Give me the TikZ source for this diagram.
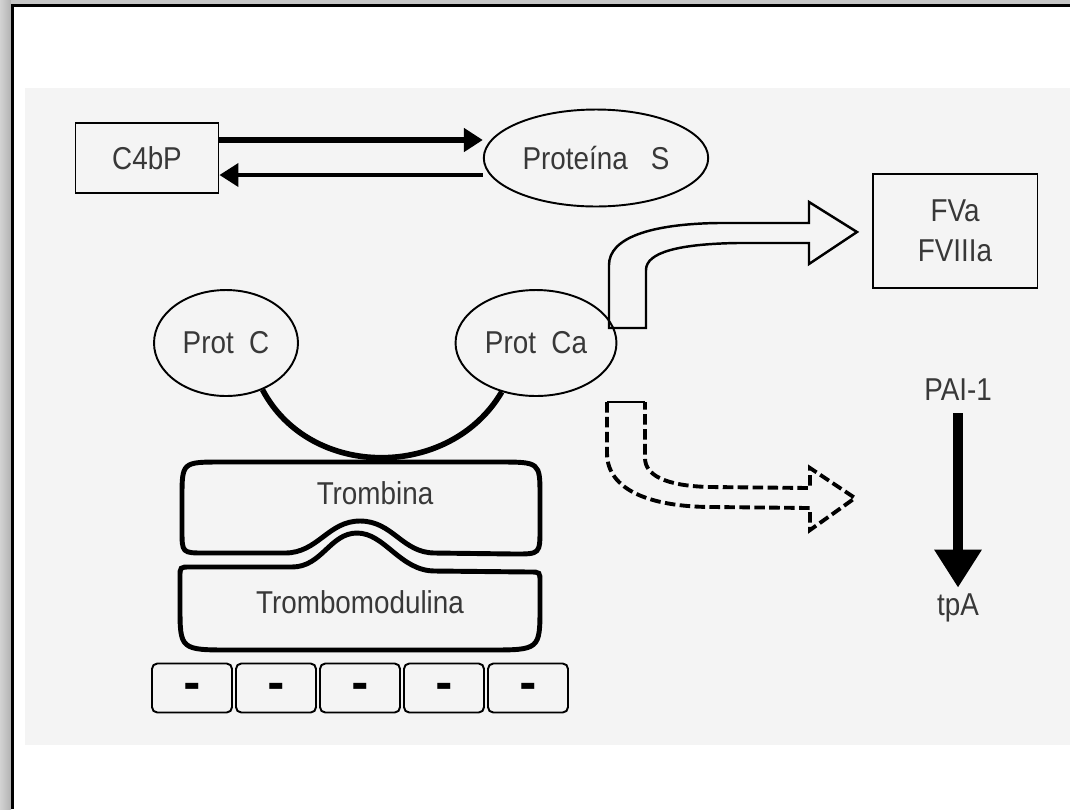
\documentclass[tikz,border=0pt]{standalone}
\usepackage{fontspec}
\setmainfont{Liberation Sans}[FakeStretch=0.88]
\newfontfamily\chargefont{DejaVu Sans}
\usetikzlibrary{shapes.geometric, arrows.meta}
\definecolor{panel}{HTML}{F4F4F4}

\begin{document}
\begin{tikzpicture}[
						x=0.02cm, y=-0.02cm,
						every node/.style={font=\fontsize{18}{23}\selectfont, text=black!78},
						box/.style={rectangle, draw, line width=1.1pt, text=black!78},
						blob/.style={ellipse, draw, line width=1.1pt, text=black!78},
						cell/.style={rectangle, draw, rounded corners=3pt, line width=1.1pt, minimum width=1.6cm, minimum height=0.98cm, text height=12pt, font=\chargefont\bfseries\fontsize{24}{24}\selectfont, text=black},
						hollow/.style={draw, line width=1.4pt},
						every path/.style={>={Triangle[length=0.38cm, width=0.46cm]}}]
					\useasboundingbox (0,0) rectangle (1070,809);
					\fill[white] (0,0) rectangle (1070,809);
					\fill[panel] (25,88) rectangle (1070,745);
					\shade[left color=gray!35, right color=gray!60] (0,0) rectangle (11,809);
					\fill[gray!45] (11,0) rectangle (1070,4);
					\fill[black] (11,4) rectangle (14,809);
					\fill[black] (11,4) rectangle (1070,7);

					\node[box, minimum width=2.86cm, minimum height=1.4cm] (C4bP) at (147,158) {C4bP};
					\node[blob, minimum width=4.46cm, minimum height=1.94cm] (ProtS) at (596,158) {Proteína~~~S};
					\node[box, minimum width=3.3cm, minimum height=2.28cm, align=center] (FV) at (955,231) {FVa\\FVIIIa};
					\node[blob, minimum width=2.88cm, minimum height=2.12cm] (ProtC) at (226,343) {Prot~~C};
					\node[blob, minimum width=3.0cm, minimum height=2.12cm] (ProtCa) at (536,343) {Prot~~Ca};
					\node (PAI) at (958,390) {PAI-1};
					\node (tpA) at (958,608) {tpA};

					\path [->, line width=3.8pt] ([yshift=0.36cm]C4bP.east) edge ([yshift=0.36cm]ProtS.west);
					\path [->, line width=2.3pt] ([yshift=-0.34cm]ProtS.west) edge ([yshift=-0.34cm]C4bP.east);
					\path [-{Triangle[length=0.76cm, width=0.9cm]}, line width=5.7pt] (PAI) edge[shorten <=0.12cm] (tpA);

					\draw[line width=3.2pt] (ProtC.-52) .. controls (310,480) and (450,480) .. (ProtCa.-125);

					\draw[line width=2.8pt] (540,510) -- (540,496) .. controls (540,462) .. (498,462) -- (222,462) .. controls (182,462) .. (182,498) -- (182,530) .. controls (182,553) .. (205,553) -- (285,553) .. controls (318,553) and (328,521) .. (360,521) .. controls (393,521) and (402,553) .. (435,553) -- (515,554) .. controls (540,554) .. (540,528) -- cycle;
					\draw[line width=2.8pt] (360,650) -- (232,650) .. controls (180,650) .. (180,606) -- (180,577) .. controls (180,567) .. (190,567) -- (292,567) .. controls (322,567) and (330,533) .. (357,533) .. controls (385,533) and (400,571) .. (435,571) -- (530,572) .. controls (540,572) .. (540,582) -- (540,606) .. controls (540,650) .. (488,650) -- cycle;
					\node (Trom) at (375,493) {Trombina};
					\node (TromMod) at (360,602) {Trombomodulina};

					\foreach \i in {0,...,4}
						\node[cell] (cell\i) at (192+84*\i,688) {-};

					\draw[hollow] (609,328) -- (609,265) .. controls (609,238) and (650,224) .. (718,223) -- (809,223) -- (809,202) -- (857,232) -- (809,264) -- (809,243) -- (737,243) .. controls (680,244) and (646,252) .. (646,270) -- (646,328) -- cycle;
					\draw[hollow, line width=2.2pt, dash pattern=on 6pt off 2.5pt] (607,402) -- (607,453) .. controls (607,490) and (650,507) .. (713,507) -- (810,508) -- (810,530) -- (855,498) -- (810,468) -- (810,488) -- (710,487) .. controls (665,486) and (645,475) .. (645,458) -- (645,402);
					\draw[line width=1pt] (607,402) -- (645,402);
				\end{tikzpicture}
\end{document}
